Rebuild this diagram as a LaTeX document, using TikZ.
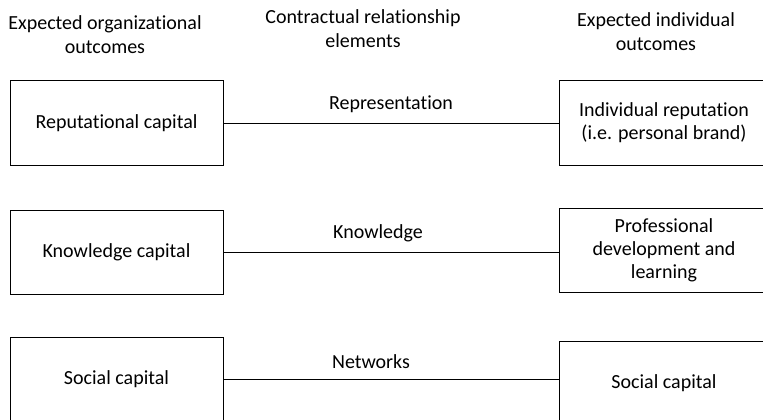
\documentclass[tikz,border=0pt]{standalone}
\usepackage{fontspec}
\setmainfont[Ligatures=NoCommon]{Carlito}
\usetikzlibrary{positioning, calc}

\begin{document}
\begin{tikzpicture}[
    x=1pt, y=-1pt,
    txt/.style={font=\fontsize{20}{24}\selectfont, align=center, inner sep=0pt},
    outbox/.style={draw=black, line width=1pt, minimum width=213pt, minimum height=84pt, align=center, font=\fontsize{20}{23}\selectfont},
    link/.style={line width=1pt, black}
]
    \useasboundingbox (0,0) rectangle (763,420);
    \clip (0,0) rectangle (763,420);

    % Column headers
    \node[txt] (orghead) at (105,35) {Expected organizational\\outcomes};
    \node[txt] (relhead) at (363,29) {Contractual relationship\\elements};
    \node[txt] (indhead) at (656,32) {Expected individual\\outcomes};

    % Left boxes
    \node[outbox] (repcap) at (116.5,123) {Reputational capital};
    \node[outbox] (knowcap) at (116.5,252) {Knowledge capital};
    \node[outbox] (soccap) at (116.5,379) {Social capital};

    % Right boxes
    \node[outbox, minimum width=210pt] (indrep) at (664,123) {Individual reputation\\(i.e. personal brand)};
    \node[outbox, minimum width=210pt] (profdev) at (664,250) {Professional\\development and\\learning};
    \node[outbox, minimum width=210pt] (indsoc) at (664,383) {Social capital};

    % Links
    \draw[link] (repcap.east) -- (repcap.east -| indrep.west)
        node[txt, midway, above=10pt] (repr) {Representation};
    \draw[link] (knowcap.east) -- (knowcap.east -| profdev.west)
        node[txt, midway, above=10pt, xshift=-13pt] (know) {Knowledge};
    \draw[link] (soccap.east) -- (soccap.east -| indsoc.west)
        node[txt, midway, above=10pt, xshift=-20pt] (netw) {Networks};
\end{tikzpicture}
\end{document}
